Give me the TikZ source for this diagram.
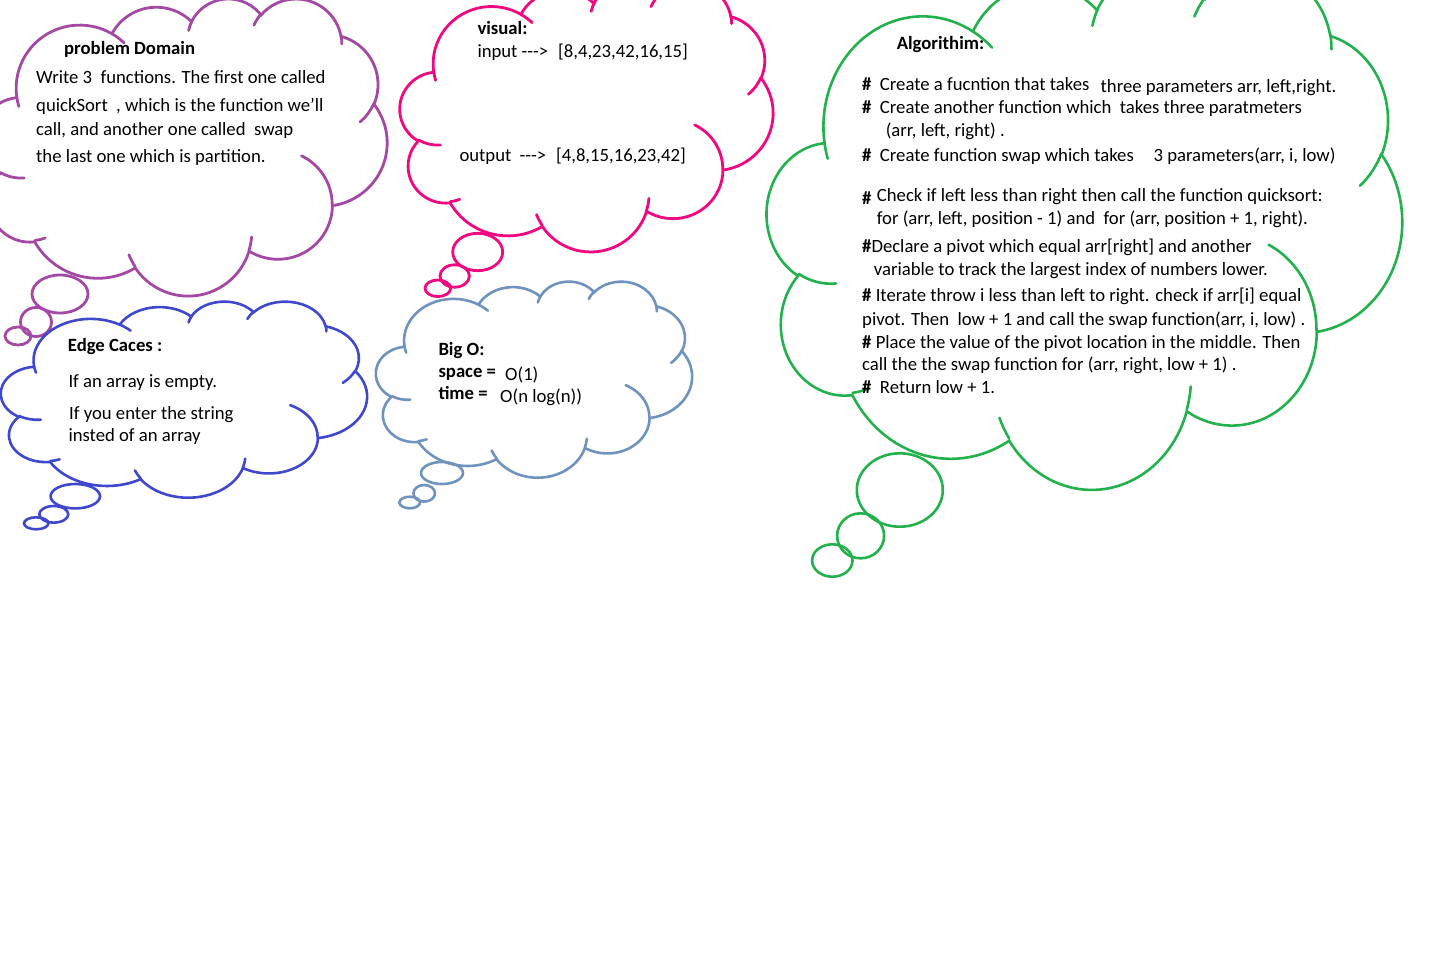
\documentclass[tikz,border=0pt]{standalone}
\usepackage{fontspec}
\setmainfont{Carlito}[Ligatures=TeXOff]
\usetikzlibrary{positioning}

\definecolor{cpurple}{RGB}{163,73,164}
\definecolor{cpink}{RGB}{240,8,128}
\definecolor{cgreen}{RGB}{34,177,76}
\definecolor{cindigo}{RGB}{63,72,204}
\definecolor{cblue}{RGB}{112,146,190}

\newcommand{\cloudarc}[4]{%
  arc[x radius=#1, y radius=#2,
      start angle={atan2(#1*sin(#3),#2*cos(#3))},
      delta angle={mod(atan2(#1*sin(#3+#4),#2*cos(#3+#4))-atan2(#1*sin(#3),#2*cos(#3))+720,360)}]}

\newcommand{\thoughtcloud}[5]{%
  \begin{scope}[shift={(#1,#2)}, x={#3pt/43.2}, y={-#4pt/43.2}, #5]
    \draw (3.9,14.37)
      \cloudarc{6.753}{9.19}{-190.4875}{123.7805}
      \cloudarc{5.333}{7.267}{-144.1024}{89.9452}
      \cloudarc{4.365}{5.945}{-145.8079}{99.7230}
      \cloudarc{4.857}{6.595}{-130.9861}{117.2417}
      \cloudarc{5.333}{7.273}{-78.7089}{109.0269}
      \cloudarc{6.775}{9.22}{-46.2673}{130.2690}
      \cloudarc{5.785}{7.867}{0.6250}{114.0333}
      \cloudarc{6.752}{9.215}{22.4516}{115.1726}
      \cloudarc{7.72}{10.543}{66.2426}{75.7110}
      \cloudarc{4.36}{5.918}{-274.9421}{146.7356}
      \cloudarc{4.345}{5.945}{-246.8285}{152.5189} -- cycle;
    \draw (4.693,26.177) \cloudarc{4.345}{5.945}{86.742}{26.4295}
      (6.928,34.899) \cloudarc{4.36}{5.918}{73.6105}{11.4475}
      (16.478,39.09) \cloudarc{6.752}{9.215}{137.6242}{14.0811}
      (28.827,34.751) \cloudarc{6.752}{9.215}{6.4533}{15.9984}
      (34.129,22.954) \cloudarc{5.785}{7.867}{-70.2924}{70.9174}
      (41.798,15.354) \cloudarc{5.333}{7.273}{30.318}{27.7515}
      (38.324,5.426) \cloudarc{4.857}{6.595}{-13.7443}{14.8589}
      (29.078,3.952) \cloudarc{4.857}{6.595}{-149.1815}{18.1954}
      (22.141,4.72) \cloudarc{4.365}{5.945}{-163.4943}{17.6864}
      (14,5.192) \cloudarc{6.753}{9.19}{-66.707}{12.3194}
      (4.127,15.789) \cloudarc{6.753}{9.19}{157.6544}{11.8582};
  \end{scope}}

\begin{document}
\begin{tikzpicture}[
    x=1pt, y=-1pt,
    line cap=round,
    txt/.style={anchor=base west, inner sep=0pt, font=\fontsize{18.7}{22}\selectfont},
    ttl/.style={txt, font=\fontsize{18.7}{22}\selectfont\bfseries},
    cloudpurple/.style={color=cpurple, line width=2.8pt},
    cloudpink/.style={color=cpink, line width=2.8pt},
    cloudgreen/.style={color=cgreen, line width=2.6pt},
    cloudindigo/.style={color=cindigo, line width=2.6pt},
    cloudblue/.style={color=cblue, line width=2.6pt}
]
    \useasboundingbox (0,0) rectangle (1443,964);

    \thoughtcloud{-20}{-2}{407}{297}{cloudpurple}
    \draw[cloudpurple] (60,294) ellipse [x radius=28pt, y radius=19pt];
    \draw[cloudpurple] (36,322) ellipse [x radius=15.5pt, y radius=14.5pt];
    \draw[cloudpurple] (18,336) ellipse [x radius=13pt, y radius=9pt];

    \thoughtcloud{400}{-18}{373}{269}{cloudpink}
    \draw[cloudpink] (477.7,252) ellipse [x radius=25pt, y radius=18.7pt];
    \draw[cloudpink] (454.7,276) ellipse [x radius=14.7pt, y radius=11.2pt];
    \draw[cloudpink] (437.8,288.3) ellipse [x radius=12.8pt, y radius=8.3pt];

    \thoughtcloud{767}{-31}{635}{519}{cloudgreen}
    \draw[cloudgreen] (899.8,490) ellipse [x radius=43pt, y radius=36.7pt];
    \draw[cloudgreen] (860.6,535.8) ellipse [x radius=23.5pt, y radius=22.5pt];
    \draw[cloudgreen] (832.3,560.5) ellipse [x radius=20.2pt, y radius=16.2pt];

    \thoughtcloud{1}{301}{366}{196}{cloudindigo}
    \draw[cloudindigo] (75.3,496.2) ellipse [x radius=24.7pt, y radius=12.2pt];
    \draw[cloudindigo] (53.8,514.3) ellipse [x radius=14.5pt, y radius=8.3pt];
    \draw[cloudindigo] (36.2,523.3) ellipse [x radius=12.2pt, y radius=6pt];

    \thoughtcloud{376}{281}{316}{196}{cloudblue}
    \draw[cloudblue] (442,473) ellipse [x radius=21pt, y radius=11pt];
    \draw[cloudblue] (424.2,493.3) ellipse [x radius=10.8pt, y radius=8.3pt];
    \draw[cloudblue] (409.7,502.5) ellipse [x radius=10.3pt, y radius=5.8pt];

    \node[ttl] (pdtitle) at (64,54) {problem Domain};
    \node[txt] (pd1) at (36,83.3) {Write 3\ \ functions. The first one called};
    \node[txt] (pd2) at (36,111.7) {quickSort\ \ , which is the function we’ll};
    \node[txt] (pd3) at (36,135) {call, and another one called\ \ swap};
    \node[txt] (pd4) at (36,162.3) {the last one which is partition.};

    \node[ttl] (vistitle) at (477.3,34) {visual:};
    \node[txt] (visin) at (477.3,57.3) {input --->\hspace{10pt}[8,4,23,42,16,15]};
    \node[txt] (visout) at (459.3,161.7) {output\hspace{8.3pt}--->\hspace{10pt}[4,8,15,16,23,42]};

    \node[ttl] (algtitle) at (896.6,49) {Algorithim:};
    \node[txt] (alg1) at (862,90) {\textbf{\#}\ \ Create a fucntion that takes};
    \node[txt] (alg1b) at (1100.5,92.3) {three parameters arr, left,right.};
    \node[txt] (alg2) at (862,113.3) {\textbf{\#}\ \ Create another function which\ \ takes three paratmeters};
    \node[txt] (alg3) at (885.6,136) {(arr, left, right) .};
    \node[txt] (alg4) at (862,161.3) {\textbf{\#}\ \ Create function swap which takes};
    \node[txt] (alg4b) at (1153.4,161.3) {3 parameters(arr, i, low)};
    \node[txt] (alg5h) at (862,204) {\textbf{\#}};
    \node[txt] (alg5) at (876.7,201) {Check if left less than right then call the function quicksort:};
    \node[txt] (alg6) at (876.7,224) {for (arr, left, position - 1) and\ \ for (arr, position + 1, right).};
    \node[txt] (alg7) at (862,252.3) {\textbf{\#}Declare a pivot which equal arr[right] and another};
    \node[txt] (alg8) at (873.7,275) {variable to track the largest index of numbers lower.};
    \node[txt] (alg9) at (862,301.7) {\textbf{\#} Iterate throw i less than left to right. check if arr[i] equal};
    \node[txt] (alg10) at (862,325) {pivot. Then\ \ low + 1 and call the swap function(arr, i, low) .};
    \node[txt] (alg11) at (862,348) {\textbf{\#} Place the value of the pivot location in the middle. Then};
    \node[txt] (alg12) at (862,370.7) {call the the swap function for (arr, right, low + 1) .};
    \node[txt] (alg13) at (862,393.3) {\textbf{\#}\ \ Return low + 1.};

    \node[ttl] (edgetitle) at (67.7,351.7) {Edge Caces :};
    \node[txt] (edge1) at (68.3,387.3) {If an array is empty.};
    \node[txt] (edge2) at (69,419.3) {If you enter the string};
    \node[txt] (edge3) at (68.3,441.7) {insted of an array};

    \node[ttl] (bigotitle) at (438.3,355) {Big O:};
    \node[ttl] (bigospace) at (438.3,377.3) {space =};
    \node[txt] (bigospaceval) at (505,380) {O(1)};
    \node[ttl] (bigotime) at (438.3,399.3) {time =};
    \node[txt] (bigotimeval) at (500,402.3) {O(n log(n))};
\end{tikzpicture}
\end{document}
